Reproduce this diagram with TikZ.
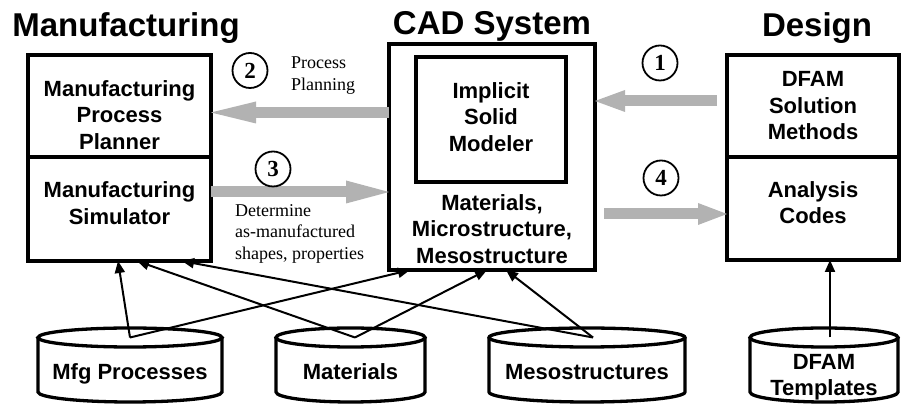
\documentclass[tikz,border=0pt]{standalone}
\usepackage{fontspec}
\setmainfont{Liberation Serif}
\setsansfont{Liberation Sans}
\usetikzlibrary{arrows.meta,calc}

\begin{document}
\begin{tikzpicture}[x=1pt, y=1pt, line join=miter,
	box/.style={draw, line width=4pt, inner sep=0pt, outer sep=0pt},
	boxtext/.style={font=\sffamily\bfseries\fontsize{22}{26.5}\selectfont, align=center, inner sep=0pt},
	title/.style={font=\sffamily\bfseries\fontsize{33}{36}\selectfont, anchor=base, inner sep=0pt},
	store/.style={line width=3.3pt},
	flow/.style={line width=11pt, black!30},
	stepnum/.style={circle, draw, line width=1.8pt, minimum size=35pt, inner sep=0pt, font=\bfseries\fontsize{23}{26}\selectfont},
	note/.style={font=\fontsize{18}{21.5}\selectfont, align=left, inner sep=0pt, anchor=west},
	feed/.style={line width=2pt, -{Triangle[length=12pt, width=10pt]}}]
	\useasboundingbox (0,0) rectangle (901,406);
	% titles
	\node[title] (mfgtitle) at (126,369) {Manufacturing};
	\node[title] (cadtitle) at (492,371) {CAD System};
	\node[title] (destitle) at (817,369) {Design};
	% manufacturing
	\node[box, minimum width=183, minimum height=102] (plan) at (119.5,300) {};
	\node[box, minimum width=183, minimum height=104] (sim) at (119.5,197) {};
	\node[boxtext] (plantext) at (119.5,291) {Manufacturing\\Process\\Planner};
	\node[boxtext] (simtext) at (119.5,203) {Manufacturing\\Simulator};
	% cad system
	\node[box, minimum width=206, minimum height=226] (cad) at (492,249) {};
	\node[box, minimum width=150, minimum height=125] (ism) at (491,286.5) {};
	\node[boxtext] (ismtext) at (491,289) {Implicit\\Solid\\Modeler};
	\node[boxtext] (mattext) at (492,177) {Materials,\\Microstructure,\\Mesostructure};
	% design
	\node[box, minimum width=172, minimum height=102] (dfam) at (813,300) {};
	\node[box, minimum width=172, minimum height=103] (ana) at (813,197.5) {};
	\node[boxtext] (dfamtext) at (813,300) {DFAM\\Solution\\Methods};
	\node[boxtext] (anatext) at (813,203.5) {Analysis\\Codes};
	% data bases
	\foreach \id/\cx/\hw/\sx/\ty/\txt in {mfgdb/130/92/130/32/Mfg Processes, matdb/350.5/74.5/355/34/Materials,
		mesodb/587/98/593/34/Mesostructures, tpldb/824/74/830/29/{DFAM\\Templates}} {
		\draw[store] (\cx-\hw,68.5) -- (\cx-\hw,14) arc[start angle=180, end angle=360, x radius=\hw, y radius=10] -- (\cx+\hw,68.5);
		\draw[store] (\cx,68.5) ellipse[x radius=\hw, y radius=9.5];
		\node[boxtext] (\id) at (\cx,\ty) {\txt};
		\coordinate (\id-src) at (\sx,68.5);
	}
	% steps
	\draw[flow, -{Triangle[length=30pt, width=22pt, line width=0pt]}] ($(dfam.west |- 0,305)+(-10,0)$) -- (cad.east |- 0,305);
	\draw[flow, -{Triangle[length=45pt, width=22pt, line width=0pt]}] (cad.west |- 0,293.5) -- (plan.east |- 0,293.5);
	\draw[flow, -{Triangle[length=43pt, width=23pt, line width=0pt]}] (sim.east |- 0,214) -- (cad.west |- 0,214);
	\draw[flow, -{Triangle[length=29pt, width=22pt, line width=0pt]}] ($(cad.east |- 0,192)+(9,0)$) -- (ana.west |- 0,192);
	\node[stepnum] (s1) at (660,343) {1};
	\node[stepnum] (s2) at (250,335.5) {2};
	\node[stepnum] (s3) at (273,237) {3};
	\node[stepnum] (s4) at (661,228) {4};
	\node[note] (plannote) at (291,330.5) {Process\\Planning};
	\node[note] (detnote) at (235,172.5) {Determine\\as-manufactured\\shapes, properties};
	% data flow
	\draw[feed] (mfgdb-src) -- (118,0 |- sim.south);
	\draw[feed] (mfgdb-src) -- (410,0 |- cad.south);
	\draw[feed] (matdb-src) -- (137,0 |- sim.south);
	\draw[feed] (matdb-src) -- (487,0 |- cad.south);
	\draw[feed] (mesodb-src) -- (182,0 |- sim.south);
	\draw[feed] (mesodb-src) -- (506,0 |- cad.south);
	\draw[feed] (tpldb-src) -- (tpldb-src |- ana.south);
\end{tikzpicture}
\end{document}
